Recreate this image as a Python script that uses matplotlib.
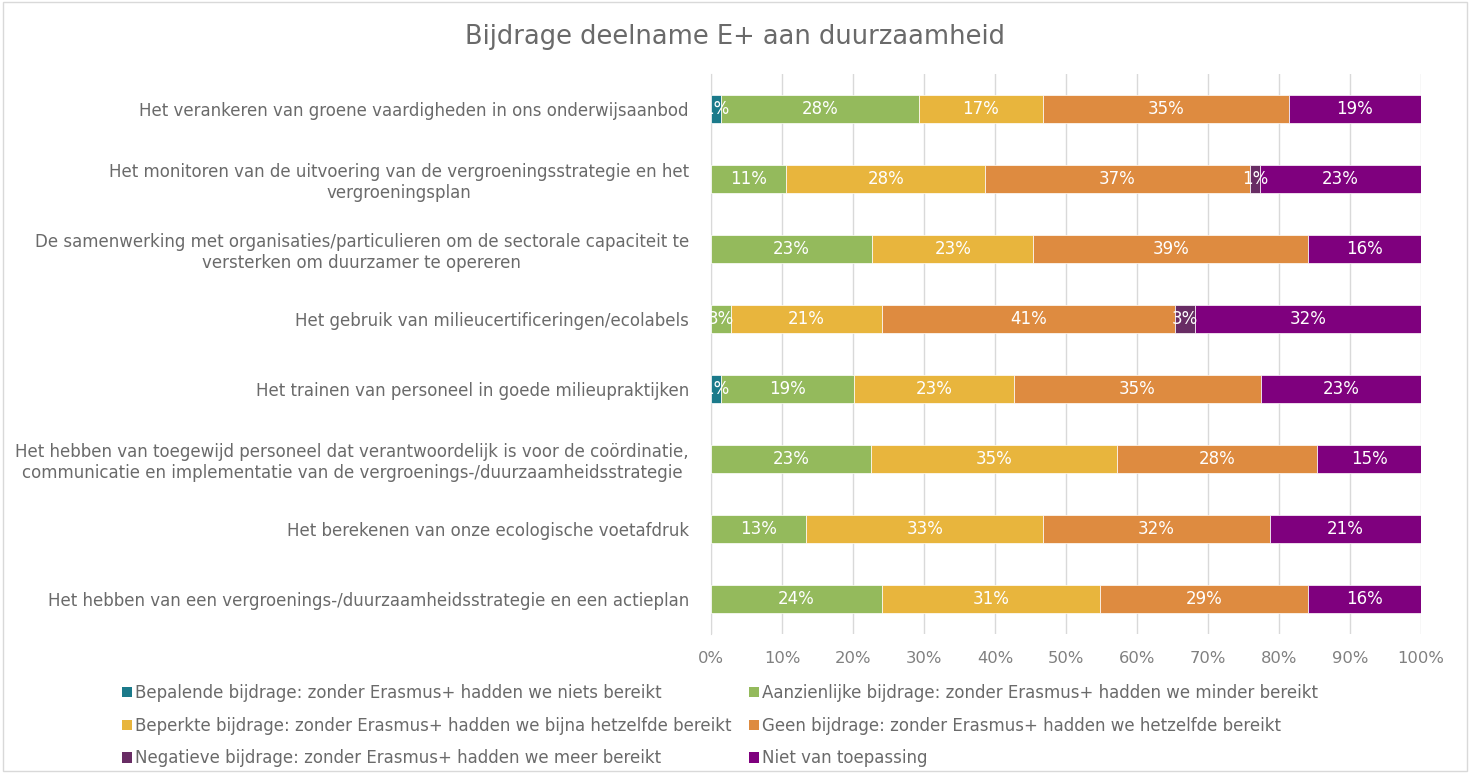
import matplotlib
matplotlib.use("Agg")
import matplotlib.pyplot as plt
import numpy as np
from matplotlib.patches import Rectangle, Patch

plt.rcParams['font.family'] = ['DejaVu Sans']

title = "Bijdrage deelname E+ aan duurzaamheid"

categories = [
    "Het verankeren van groene vaardigheden in ons onderwijsaanbod",
    "Het monitoren van de uitvoering van de vergroeningsstrategie en het\nvergroeningsplan",
    "De samenwerking met organisaties/particulieren om de sectorale capaciteit te\nversterken om duurzamer te opereren",
    "Het gebruik van milieucertificeringen/ecolabels",
    "Het trainen van personeel in goede milieupraktijken",
    "Het hebben van toegewijd personeel dat verantwoordelijk is voor de coördinatie,\ncommunicatie en implementatie van de vergroenings-/duurzaamheidsstrategie",
    "Het berekenen van onze ecologische voetafdruk",
    "Het hebben van een vergroenings-/duurzaamheidsstrategie en een actieplan",
]

series_names = [
    "Bepalende bijdrage: zonder Erasmus+ hadden we niets bereikt",
    "Aanzienlijke bijdrage: zonder Erasmus+ hadden we minder bereikt",
    "Beperkte bijdrage: zonder Erasmus+ hadden we bijna hetzelfde bereikt",
    "Geen bijdrage: zonder Erasmus+ hadden we hetzelfde bereikt",
    "Negatieve bijdrage: zonder Erasmus+ hadden we meer bereikt",
    "Niet van toepassing",
]

bepalende    = [1.4, 0.0, 0.0, 0.0, 1.4, 0.0, 0.0, 0.0]
aanzienlijke = [27.9, 10.6, 22.7, 2.8, 18.7, 22.6, 13.4, 24.1]
beperkte     = [17.4, 28.0, 22.7, 21.3, 22.6, 34.6, 33.4, 30.7]
geen         = [34.7, 37.3, 38.7, 41.3, 34.7, 28.2, 31.9, 29.3]
negatieve    = [0.0, 1.4, 0.0, 2.7, 0.0, 0.0, 0.0, 0.0]
niet         = [18.6, 22.7, 15.9, 31.9, 22.6, 14.6, 21.3, 15.9]

series = [bepalende, aanzienlijke, beperkte, geen, negatieve, niet]
colors = ["#1B7A8A", "#94BA5C", "#E8B53D", "#DE8B40", "#682C64", "#7F007E"]

xticks = [0, 10, 20, 30, 40, 50, 60, 70, 80, 90, 100]
xticklabels = [f"{t}%" for t in xticks]

fig = plt.figure(figsize=(14.72, 7.73), dpi=100)
W, H = 1472, 773
ax = fig.add_axes([711 / W, 1 - 634 / H, 710 / W, 560 / H])

y = np.arange(len(categories))
left = np.zeros(len(categories))
for vals, col, name in zip(series, colors, series_names):
    vals = np.array(vals)
    ax.barh(y, vals, left=left, height=0.4, color=col, label=name,
            edgecolor="white", linewidth=0.5, zorder=3)
    for i, v in enumerate(vals):
        if v > 0:
            ax.text(left[i] + v / 2, y[i], f"{v:.0f}%", ha="center", va="center",
                    color="white", fontsize=12, zorder=4)
    left += vals

ax.set_xlim(0, 100)
ax.set_ylim(len(categories) - 0.5, -0.5)
ax.set_yticks(y)
ax.set_yticklabels(categories, fontsize=12, color="#6A6A6A", multialignment="center")
ax.set_xticks(xticks)
ax.set_xticklabels(xticklabels, fontsize=11.8, color="#808080")
ax.tick_params(axis="both", length=0)
ax.tick_params(axis="y", pad=16)
ax.tick_params(axis="x", pad=12)
ax.grid(axis="x", color="#D9D9D9", linewidth=1, zorder=0)
for s in ["top", "right", "bottom"]:
    ax.spines[s].set_visible(False)
ax.spines["left"].set_color("#D9D9D9")
ax.spines["left"].set_zorder(1)

fig.text(735 / W, 1 - 37 / H, title, ha="center", va="center", fontsize=18.5, color="#6A6A6A")

handles = [Patch(facecolor=c, edgecolor="none") for c in colors]
order = [0, 2, 4, 1, 3, 5]
leg = fig.legend([handles[i] for i in order], [series_names[i] for i in order],
                 ncol=2, loc="upper left", bbox_to_anchor=(122 / W, 1 - 684 / H),
                 frameon=False, fontsize=12, labelcolor="#6A6A6A",
                 handlelength=0.6, handleheight=0.6, handletextpad=0.2,
                 columnspacing=1.0, labelspacing=0.88, borderaxespad=0, borderpad=0)

fig.patches.append(Rectangle((3 / W, 2 / H), 1 - 8 / W, 1 - 4 / H, transform=fig.transFigure,
                             fill=False, edgecolor="#D9D9D9", linewidth=1))

fig.savefig("out.png", dpi=100, facecolor="white")
